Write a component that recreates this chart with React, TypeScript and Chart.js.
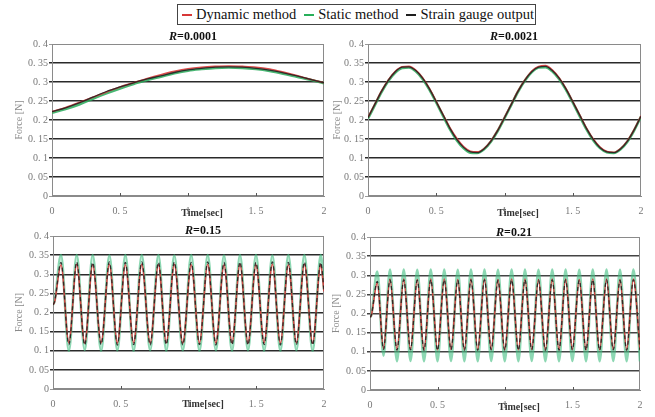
import React, { useEffect, useRef } from "react";
import { Chart, registerables } from "chart.js";

Chart.register(...registerables);

// ---------- DATA ----------
const seriesNames = ["Dynamic method", "Static method", "Strain gauge output"];
const yTickValues = [0, 0.05, 0.1, 0.15, 0.2, 0.25, 0.3, 0.35, 0.4];
const yTickLabels = ["0", "0. 05", "0. 1", "0. 15", "0. 2", "0. 25", "0. 3", "0. 35", "0. 4"];
const xTickValues = [0, 0.5, 1, 1.5, 2];
const xTickLabels = ["0", "0. 5", "1", "1. 5", "2"];
const panelTitles = ["=0.0001", "=0.0021", "=0.15", "=0.21"];

// R = 0.0001
const tlTime = [0, 0.1, 0.2, 0.3, 0.4, 0.5, 0.6, 0.7, 0.8, 0.9, 1.0, 1.1, 1.2, 1.3, 1.4, 1.5, 1.6, 1.7, 1.8, 1.9, 2.0];
const tlDynamic = [0.222, 0.233, 0.246, 0.260, 0.274, 0.287, 0.298, 0.309, 0.319, 0.328, 0.335, 0.339, 0.341, 0.342, 0.341, 0.339, 0.334, 0.326, 0.317, 0.307, 0.298];
const tlStatic = [0.219, 0.229, 0.241, 0.256, 0.270, 0.283, 0.295, 0.305, 0.314, 0.323, 0.330, 0.334, 0.337, 0.338, 0.337, 0.334, 0.329, 0.322, 0.314, 0.306, 0.297];
const tlStrain = [0.222, 0.232, 0.245, 0.260, 0.275, 0.287, 0.298, 0.308, 0.316, 0.325, 0.332, 0.336, 0.339, 0.340, 0.339, 0.336, 0.331, 0.324, 0.316, 0.307, 0.298];

// R = 0.0021
const trTime = [0, 0.05, 0.1, 0.15, 0.2, 0.25, 0.3, 0.35, 0.4, 0.45, 0.5, 0.55, 0.6, 0.65, 0.7, 0.75, 0.8, 0.85, 0.9, 0.95, 1.0,
  1.05, 1.1, 1.15, 1.2, 1.25, 1.3, 1.35, 1.4, 1.45, 1.5, 1.55, 1.6, 1.65, 1.7, 1.75, 1.8, 1.85, 1.9, 1.95, 2.0];
const trDynamic = [0.207, 0.242, 0.277, 0.306, 0.328, 0.340, 0.341, 0.331, 0.311, 0.283, 0.249, 0.214, 0.180, 0.152, 0.130, 0.118, 0.116, 0.125, 0.145, 0.173, 0.207,
  0.242, 0.277, 0.306, 0.329, 0.341, 0.343, 0.332, 0.311, 0.283, 0.249, 0.214, 0.179, 0.150, 0.129, 0.117, 0.115, 0.125, 0.145, 0.175, 0.211];
const trStatic = [0.204, 0.239, 0.274, 0.303, 0.325, 0.337, 0.338, 0.328, 0.308, 0.280, 0.246, 0.211, 0.176, 0.147, 0.126, 0.114, 0.113, 0.123, 0.143, 0.171, 0.205,
  0.240, 0.275, 0.304, 0.326, 0.338, 0.339, 0.328, 0.308, 0.280, 0.246, 0.211, 0.176, 0.147, 0.126, 0.115, 0.113, 0.123, 0.143, 0.173, 0.209];
const trStrain = [0.206, 0.241, 0.276, 0.305, 0.327, 0.339, 0.340, 0.330, 0.310, 0.282, 0.248, 0.213, 0.178, 0.149, 0.128, 0.116, 0.114, 0.124, 0.144, 0.172, 0.206,
  0.241, 0.276, 0.305, 0.327, 0.339, 0.341, 0.330, 0.310, 0.282, 0.248, 0.213, 0.178, 0.149, 0.127, 0.116, 0.114, 0.124, 0.144, 0.174, 0.210];

// R = 0.15 (turning points)
const blTime = [0, 0.012, 0.059, 0.117, 0.175, 0.234, 0.293, 0.355, 0.416, 0.475, 0.534, 0.595, 0.655, 0.717, 0.778, 0.836, 0.895, 0.958,
  1.020, 1.081, 1.142, 1.202, 1.262, 1.321, 1.380, 1.439, 1.498, 1.558, 1.619, 1.678, 1.737, 1.796, 1.855, 1.916, 1.976, 2.0];
const blDynamic = [0.220, 0.228, 0.325, 0.121, 0.326, 0.120, 0.325, 0.121, 0.326, 0.120, 0.325, 0.121, 0.326, 0.120, 0.325, 0.121, 0.326, 0.120,
  0.325, 0.121, 0.326, 0.120, 0.325, 0.121, 0.326, 0.120, 0.325, 0.121, 0.326, 0.120, 0.325, 0.121, 0.326, 0.120, 0.325, 0.255];
const blStatic = [0.220, 0.230, 0.350, 0.100, 0.350, 0.102, 0.350, 0.100, 0.349, 0.101, 0.350, 0.100, 0.350, 0.101, 0.350, 0.100, 0.349, 0.101,
  0.350, 0.100, 0.350, 0.101, 0.349, 0.100, 0.350, 0.101, 0.350, 0.100, 0.349, 0.100, 0.350, 0.101, 0.350, 0.100, 0.350, 0.260];
const blStrain = [0.220, 0.229, 0.331, 0.116, 0.332, 0.115, 0.331, 0.116, 0.332, 0.115, 0.331, 0.116, 0.332, 0.115, 0.331, 0.116, 0.332, 0.115,
  0.331, 0.116, 0.332, 0.115, 0.331, 0.116, 0.332, 0.115, 0.331, 0.116, 0.332, 0.115, 0.331, 0.116, 0.332, 0.115, 0.331, 0.258];

// R = 0.21 (turning points)
const brTime = [0, 0.01, 0.054, 0.100, 0.148, 0.200, 0.250, 0.300, 0.350, 0.400, 0.450, 0.500, 0.550, 0.600, 0.650, 0.699, 0.748, 0.798, 0.848, 0.898, 0.948,
  0.998, 1.049, 1.099, 1.148, 1.198, 1.248, 1.299, 1.350, 1.400, 1.449, 1.499, 1.550, 1.600, 1.650, 1.701, 1.752, 1.802, 1.852, 1.901, 1.951, 2.0];
const brDynamic = [0.190, 0.195, 0.280, 0.108, 0.290, 0.105, 0.290, 0.106, 0.289, 0.105, 0.290, 0.105, 0.290, 0.106, 0.289, 0.105, 0.290, 0.105, 0.290, 0.106, 0.289,
  0.105, 0.290, 0.105, 0.290, 0.106, 0.289, 0.105, 0.290, 0.105, 0.290, 0.106, 0.289, 0.105, 0.290, 0.105, 0.290, 0.106, 0.289, 0.105, 0.290, 0.105];
const brStatic = [0.190, 0.196, 0.310, 0.090, 0.315, 0.075, 0.315, 0.076, 0.314, 0.075, 0.315, 0.075, 0.315, 0.076, 0.314, 0.075, 0.315, 0.075, 0.315, 0.076, 0.314,
  0.075, 0.315, 0.075, 0.315, 0.076, 0.314, 0.075, 0.315, 0.075, 0.315, 0.076, 0.314, 0.075, 0.315, 0.075, 0.315, 0.076, 0.314, 0.075, 0.315, 0.075];
const brStrain = [0.190, 0.196, 0.284, 0.106, 0.288, 0.104, 0.288, 0.105, 0.287, 0.104, 0.288, 0.104, 0.288, 0.105, 0.287, 0.104, 0.288, 0.104, 0.288, 0.105, 0.287,
  0.104, 0.288, 0.104, 0.288, 0.105, 0.287, 0.104, 0.288, 0.104, 0.288, 0.105, 0.287, 0.104, 0.288, 0.104, 0.288, 0.105, 0.287, 0.104, 0.288, 0.104];

// ---------- LAYOUT / STYLE ----------
const FONT = '"Liberation Serif", "Times New Roman", serif';
const seriesColors = ["rgba(215,55,55,0.9)", "rgba(40,170,90,0.85)", "rgba(35,35,35,0.9)"];

type PanelCfg = {
  left: number; top: number; w: number; h: number;
  pl: number; pt: number; pr: number; pb: number;
  titleX: number; titleY: number; xtX: number; xtY: number; ytPad: number;
  title: string; time: number[]; series: number[][]; dense: boolean;
};

const panels: PanelCfg[] = [
  { left: 0, top: 28, w: 330, h: 192, pl: 52, pt: 44, pr: 324, pb: 196, titleX: 193, titleY: 37, xtX: 202, xtY: 213, ytPad: 13,
    title: panelTitles[0], time: tlTime, series: [tlDynamic, tlStatic, tlStrain], dense: false },
  { left: 330, top: 28, w: 325, h: 192, pl: 368, pt: 44, pr: 641, pb: 196, titleX: 514, titleY: 37, xtX: 518, xtY: 213, ytPad: 1,
    title: panelTitles[1], time: trTime, series: [trDynamic, trStatic, trStrain], dense: false },
  { left: 0, top: 220, w: 330, h: 197, pl: 53, pt: 236, pr: 324, pb: 389, titleX: 203, titleY: 231, xtX: 203, xtY: 404, ytPad: 13,
    title: panelTitles[2], time: blTime, series: [blDynamic, blStatic, blStrain], dense: true },
  { left: 330, top: 220, w: 325, h: 197, pl: 370, pt: 237, pr: 640, pb: 390, titleX: 514, titleY: 233, xtX: 519, xtY: 407, ytPad: 0,
    title: panelTitles[3], time: brTime, series: [brDynamic, brStatic, brStrain], dense: true },
];

function makePlugin(c: PanelCfg) {
  return {
    id: "panelDeco",
    beforeDatasetsDraw(chart: any) {
      const { ctx, chartArea: a } = chart;
      ctx.save();
      ctx.strokeStyle = "#8a8a8a";
      ctx.lineWidth = 1;
      ctx.strokeRect(a.left + 0.5, a.top + 0.5, a.right - a.left - 1, a.bottom - a.top - 1);
      const xs = chart.scales.x;
      ctx.strokeStyle = "#555";
      for (const v of xTickValues.slice(1, -1)) {
        const px = Math.round(xs.getPixelForValue(v)) + 0.5;
        ctx.beginPath();
        ctx.moveTo(px, a.bottom);
        ctx.lineTo(px, a.bottom - 3);
        ctx.stroke();
      }
      ctx.restore();
    },
    afterDraw(chart: any) {
      const ctx = chart.ctx;
      ctx.save();
      ctx.fillStyle = "#111";
      ctx.textBaseline = "middle";
      const f1 = `italic bold 12px ${FONT}`;
      const f2 = `bold 12px ${FONT}`;
      ctx.font = f1;
      const w1 = ctx.measureText("R").width;
      ctx.font = f2;
      const w2 = ctx.measureText(c.title).width;
      const x0 = c.titleX - c.left - (w1 + w2) / 2;
      const y0 = c.titleY - c.top;
      ctx.textAlign = "left";
      ctx.font = f1;
      ctx.fillText("R", x0, y0);
      ctx.font = f2;
      ctx.fillText(c.title, x0 + w1, y0);
      ctx.font = `bold 10px ${FONT}`;
      ctx.fillStyle = "#333";
      ctx.textAlign = "center";
      ctx.fillText("Time[sec]", c.xtX - c.left, c.xtY - c.top);
      ctx.restore();
    },
  };
}

function Panel({ c }: { c: PanelCfg }) {
  const ref = useRef<HTMLCanvasElement>(null);
  useEffect(() => {
    if (!ref.current) return;
    const orders = [1, 2, 0];
    const datasets = c.series.map((vals, i) => ({
      label: seriesNames[i],
      data: c.time.map((t, k) => ({ x: t, y: vals[k] })),
      borderColor: i === 1 && c.dense ? "rgba(70,190,130,0.62)" : seriesColors[i],
      borderWidth: i === 1 ? (c.dense ? 2.6 : 2.6) : i === 0 ? 1.6 : 1.3,
      borderDash: i === 2 && c.dense ? [4, 3] : [],
      pointRadius: 0,
      fill: false,
      cubicInterpolationMode: "monotone" as const,
      order: orders[i],
    }));
    const chart = new Chart(ref.current, {
      type: "line",
      data: { datasets },
      plugins: [makePlugin(c)],
      options: {
        animation: false,
        responsive: false,
        maintainAspectRatio: false,
        events: [],
        layout: { padding: { top: c.pt - c.top, right: c.left + c.w - c.pr, left: 0, bottom: 0 } },
        plugins: { legend: { display: false }, tooltip: { enabled: false }, title: { display: false } },
        scales: {
          x: {
            type: "linear",
            min: 0,
            max: 2,
            afterBuildTicks: (s: any) => { s.ticks = xTickValues.map((v) => ({ value: v })); },
            afterFit: (s: any) => { s.height = c.top + c.h - c.pb; },
            ticks: {
              callback: (_v: any, i: number) => xTickLabels[i],
              font: { family: FONT, size: 10 },
              color: "#777",
              padding: 1,
              maxRotation: 0,
              autoSkip: false,
            },
            grid: { display: false },
            border: { display: true, color: "#8a8a8a", width: 1 },
          },
          y: {
            type: "linear",
            min: 0,
            max: 0.4,
            afterBuildTicks: (s: any) => { s.ticks = yTickValues.map((v) => ({ value: v })); },
            afterFit: (s: any) => { s.width = c.pl - c.left; },
            ticks: {
              callback: (_v: any, i: number) => yTickLabels[i],
              font: { family: FONT, size: 10 },
              color: "#777",
              padding: 1,
              autoSkip: false,
            },
            grid: {
              color: (ctx: any) => (ctx.tick && (ctx.tick.value === 0 || ctx.tick.value === 0.4) ? "#999" : c.dense && c.left > 0 ? "#444" : "#2a2a2a"),
              lineWidth: (ctx: any) => (ctx.tick && (ctx.tick.value === 0 || ctx.tick.value === 0.4) ? 1 : 1.5),
              tickLength: 3,
              drawTicks: true,
            },
            border: { display: true, color: "#8a8a8a", width: 1 },
            title: {
              display: true,
              text: "Force [N]",
              color: "#8a8a8a",
              font: { family: FONT, size: 10 },
              padding: { top: c.ytPad, bottom: 0 },
            },
          },
        },
      },
    } as any);
    return () => chart.destroy();
  }, []);
  return (
    <canvas
      ref={ref}
      width={c.w}
      height={c.h}
      style={{ position: "absolute", left: c.left, top: c.top, width: c.w, height: c.h }}
    />
  );
}

function Legend() {
  const legendColors = ["rgb(215,55,55)", "rgb(40,175,90)", "rgb(30,30,30)"];
  return (
    <div
      style={{
        position: "absolute",
        left: 177,
        top: 4,
        width: 359,
        height: 21,
        boxSizing: "border-box",
        border: "1px solid #444",
        display: "flex",
        alignItems: "center",
        paddingLeft: 4,
        fontFamily: FONT,
        fontSize: 14.5,
        whiteSpace: "nowrap",
        color: "#111",
        background: "#fff",
      }}
    >
      {seriesNames.map((n, i) => (
        <span key={n} style={{ display: "flex", alignItems: "center", marginRight: i < 2 ? 8 : 0 }}>
          <span style={{ display: "inline-block", width: 10, height: 2, background: legendColors[i], marginRight: 4 }} />
          {n}
        </span>
      ))}
    </div>
  );
}

export default function App() {
  return (
    <div style={{ position: "absolute", left: 0, top: 0, width: 655, height: 417, background: "#fff", overflow: "hidden" }}>
      <Legend />
      {panels.map((c, i) => (
        <Panel key={i} c={c} />
      ))}
    </div>
  );
}
